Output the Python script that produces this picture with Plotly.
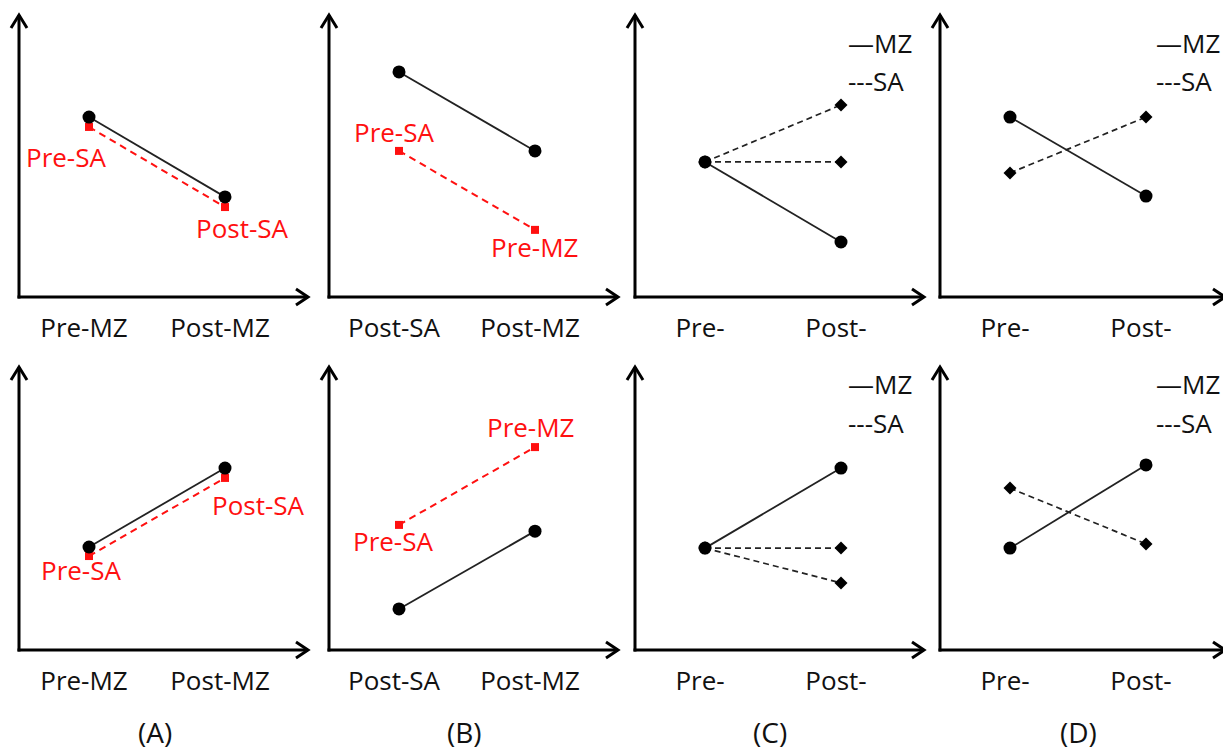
import plotly.graph_objects as go

W, H = 1223, 753
FONT = "Open Sans"

# ---------------- data ----------------
x_pos = [1, 2]
ticks_A = ["Pre-MZ", "Post-MZ"]
ticks_B = ["Post-SA", "Post-MZ"]
ticks_CD = ["Pre-", "Post-"]
panel_letters = ["(A)", "(B)", "(C)", "(D)"]
legend_text = ["\u2014MZ", "---SA"]

# top row
topA_MZ = [6.38, 3.55]
topA_SA = [6.03, 3.19]
topB_MZ = [7.98, 5.18]
topB_SA = [5.18, 2.38]
topC_MZ = [4.79, 1.95]
topC_SA_up = [4.79, 6.81]
topC_SA_flat = [4.79, 4.79]
topD_MZ = [6.38, 3.58]
topD_SA = [4.40, 6.38]
# bottom row
botA_MZ = [3.64, 6.43]
botA_SA = [3.32, 6.08]
botB_MZ = [1.45, 4.20]
botB_SA = [4.42, 7.17]
botC_MZ = [3.60, 6.43]
botC_SA_flat = [3.60, 3.60]
botC_SA_down = [3.60, 2.37]
botD_MZ = [3.60, 6.54]
botD_SA = [5.72, 3.75]

# ---------------- geometry (pixels) ----------------
col_left = [19, 329, 635, 940]
col_width = [286, 286, 286, 283]
row_top = [15, 367]
row_bottom = [297, 650]
PX_PER_X = 136.0
PRE_OFFSET = 70.0


def px(x):
    return x / W


def py(y):
    return 1 - y / H


fig = go.Figure()

panels = [
    (0, 0, ticks_A, topA_MZ, [topA_SA], "red"),
    (0, 1, ticks_B, topB_MZ, [topB_SA], "red"),
    (0, 2, ticks_CD, topC_MZ, [topC_SA_up, topC_SA_flat], "black"),
    (0, 3, ticks_CD, topD_MZ, [topD_SA], "black"),
    (1, 0, ticks_A, botA_MZ, [botA_SA], "red"),
    (1, 1, ticks_B, botB_MZ, [botB_SA], "red"),
    (1, 2, ticks_CD, botC_MZ, [botC_SA_flat, botC_SA_down], "black"),
    (1, 3, ticks_CD, botD_MZ, [botD_SA], "black"),
]

shapes = []
annotations = []

for i, (r, c, ticks, mz, sas, sa_style) in enumerate(panels):
    n = i + 1
    xa = "x" if n == 1 else f"x{n}"
    ya = "y" if n == 1 else f"y{n}"
    left = col_left[c]
    w = col_width[c]
    top = row_top[r]
    bottom = row_bottom[r]
    x_dom = [px(left), min(px(left + w), 1.0)]
    y_dom = [py(bottom), py(top)]
    xr = [1 - PRE_OFFSET / PX_PER_X, 1 + (w - PRE_OFFSET) / PX_PER_X]

    for sa in sas:
        if sa_style == "red":
            line = dict(color="#ff1010", width=2.0, dash="7px,5px")
            marker = dict(symbol="square", size=8, color="#ff1010")
        else:
            line = dict(color="#222222", width=1.7, dash="6px,4px")
            marker = dict(symbol="diamond", size=10, color="black")
        fig.add_trace(go.Scatter(x=x_pos, y=sa, mode="lines+markers", line=line,
                                 marker=marker, xaxis=xa, yaxis=ya,
                                 showlegend=False, hoverinfo="skip"))
    fig.add_trace(go.Scatter(x=x_pos, y=mz, mode="lines+markers",
                             line=dict(color="#222222", width=1.8),
                             marker=dict(symbol="circle", size=13, color="black"),
                             xaxis=xa, yaxis=ya, showlegend=False, hoverinfo="skip"))

    xkey = "xaxis" if n == 1 else f"xaxis{n}"
    ykey = "yaxis" if n == 1 else f"yaxis{n}"
    fig.update_layout(**{
        xkey: dict(domain=x_dom, range=xr, anchor=ya, showgrid=False, zeroline=False,
                   showline=False, ticks="", tickvals=x_pos, ticktext=ticks,
                   tickfont=dict(family=FONT, size=26, color="#111111"),
                   ticklabelstandoff=13, ticklabelshift=-5, fixedrange=True),
        ykey: dict(domain=y_dom, range=[0, 10], anchor=xa, showgrid=False,
                   zeroline=False, showline=False, showticklabels=False, ticks="",
                   fixedrange=True),
    })

    # axis lines with open arrowheads
    lw = 3
    tip_x = left + w + (3 if c < 3 else 2)
    shapes.append(dict(type="line", xref="paper", yref="paper",
                       x0=px(left), y0=py(bottom + 1.5), x1=px(left), y1=py(top),
                       line=dict(color="black", width=lw)))
    shapes.append(dict(type="line", xref="paper", yref="paper",
                       x0=px(left - 1.5), y0=py(bottom), x1=px(tip_x), y1=py(bottom),
                       line=dict(color="black", width=lw)))
    shapes.append(dict(type="path", xref="paper", yref="paper",
                       path=f"M {px(left-8)},{py(top+13)} L {px(left)},{py(top)} L {px(left+8)},{py(top+13)}",
                       line=dict(color="black", width=lw)))
    shapes.append(dict(type="path", xref="paper", yref="paper",
                       path=f"M {px(tip_x-12)},{py(bottom-8)} L {px(tip_x)},{py(bottom)} L {px(tip_x-12)},{py(bottom+8)}",
                       line=dict(color="black", width=lw)))

    # MZ / SA legend text for C and D panels
    if c >= 2:
        leg_left = 846 if c == 2 else 1154
        ys = [43, 81] if r == 0 else [384, 423]
        for txt, yy in zip(legend_text, ys):
            annotations.append(dict(text=txt, xref="paper", yref="paper",
                                    x=px(leg_left), y=py(yy), xanchor="left",
                                    yanchor="middle", showarrow=False,
                                    font=dict(family=FONT, size=26, color="#111111")))

# red point labels: (panel index, text, series, point index, xshift, yshift)
red_labels = [
    (0, "Pre-SA", topA_SA, 0, -23, -30),
    (0, "Post-SA", topA_SA, 1, 17, -21),
    (1, "Pre-SA", topB_SA, 0, -5, 19),
    (1, "Pre-MZ", topB_SA, 1, 0, -17),
    (4, "Pre-SA", botA_SA, 0, -8, -14),
    (4, "Post-SA", botA_SA, 1, 33, -27),
    (5, "Pre-MZ", botB_SA, 1, -4, 20),
    (5, "Pre-SA", botB_SA, 0, -6, -16),
]
for idx, txt, series, k, xs, ys in red_labels:
    n = idx + 1
    annotations.append(dict(text=txt, xref="x" if n == 1 else f"x{n}",
                            yref="y" if n == 1 else f"y{n}",
                            x=x_pos[k], y=series[k], xshift=xs, yshift=ys,
                            showarrow=False, xanchor="center", yanchor="middle",
                            font=dict(family=FONT, size=26, color="#ff1010")))

# panel letters
letter_x = [155, 464, 770, 1078]
for lx, lt in zip(letter_x, panel_letters):
    annotations.append(dict(text=lt, xref="paper", yref="paper", x=px(lx), y=py(732),
                            xanchor="center", yanchor="middle", showarrow=False,
                            font=dict(family=FONT, size=28, color="#111111")))

fig.update_layout(width=W, height=H, margin=dict(l=0, r=0, t=0, b=0),
                  paper_bgcolor="white", plot_bgcolor="white",
                  shapes=shapes, annotations=annotations, showlegend=False)

fig.write_html("out.html", config={"displayModeBar": False})
